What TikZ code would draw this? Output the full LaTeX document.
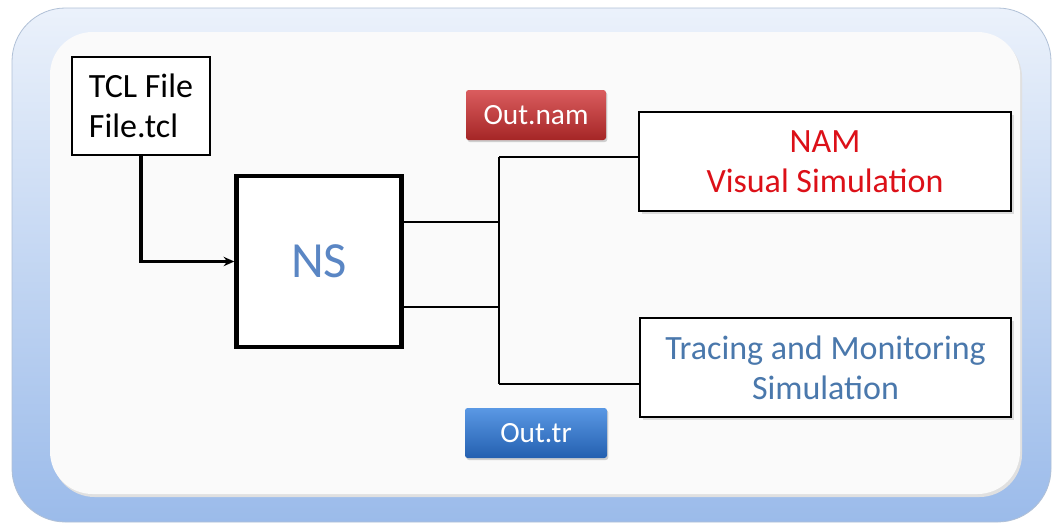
\documentclass[tikz,border=0pt]{standalone}
\usepackage{fontspec}
\setmainfont{Carlito}
\usepackage{tikz}
\usetikzlibrary{positioning,arrows.meta,calc,shadows}
\definecolor{frameblue}{HTML}{9BBBEA}
\definecolor{namred}{HTML}{DC1018}
\definecolor{trcblue}{HTML}{4A78AC}
\definecolor{nsblue}{HTML}{5A86C4}
\definecolor{redtop}{HTML}{DA5C5E}
\definecolor{redmid}{HTML}{C3302F}
\definecolor{redbot}{HTML}{A52626}
\definecolor{bluetop}{HTML}{5A98E4}
\definecolor{bluemid}{HTML}{2F72CC}
\definecolor{bluebot}{HTML}{2460B0}

\begin{document}
\begin{tikzpicture}[x=0.75pt,y=-0.75pt,>=Stealth, font=\fontsize{25.5}{30}\selectfont,
  box/.style={draw,line width=2pt,fill=white,align=center,inner sep=0pt},
  btn/.style={rounded corners=2pt,text=white,minimum width=105pt,minimum height=37.5pt,
    font=\fontsize{22}{26}\selectfont,drop shadow={opacity=0.35,shadow xshift=1pt,shadow yshift=-1.5pt}},
  wire/.style={line width=1.5pt}]
  \useasboundingbox (0,0) rectangle (1055,526);
  % frame
  \shade[rounded corners=40pt,top color=frameblue!20,bottom color=frameblue,draw=frameblue!80!black!60,line width=0.6pt]
    (12,8) rectangle (1051,522);
  \fill[black!12,rounded corners=32pt] (52,35) rectangle (1022,497);
  \fill[white!98!black,rounded corners=32pt] (50,32) rectangle (1020,494);
  % nodes
  \node[box,minimum width=103.5pt,minimum height=73.5pt,align=left](tcl) at (141,106){TCL File\\File.tcl};
  \node[box,line width=3.3pt,minimum width=123.75pt,minimum height=128.25pt,text=nsblue,
    font=\fontsize{38}{44}\selectfont](ns) at (319,261.5){NS};
  \node[box,minimum width=279pt,minimum height=74.25pt,text=namred,drop shadow={opacity=0.25}](nam) at (825,161.5){NAM\\Visual Simulation};
  \node[box,minimum width=278.25pt,minimum height=74.25pt,text=trcblue,drop shadow={opacity=0.25}](trc) at (825.5,367.5){Tracing and Monitoring\\Simulation};
  \node[btn,top color=redtop,middle color=redmid,bottom color=redbot](onam) at (536,115){Out.nam};
  \node[btn,top color=bluetop,middle color=bluemid,bottom color=bluebot,minimum width=106.5pt](otr) at (536,433){Out.tr};
  % junctions
  \coordinate(ja) at (499,222);
  \coordinate(jc) at (499,307);
  \coordinate(jt) at (499,157);
  \coordinate(jb) at (499,384);
  \draw[-{Stealth[length=8pt,width=7pt]},line width=2.6pt](tcl.south)|-(ns.west);
  \draw[wire](ja-|ns.east)--(ja);\draw[wire](jc-|ns.east)--(jc);
  \draw[wire](jt)--(jb);
  \draw[wire](jt)--(jt-|nam.west);\draw[wire](jb)--(jb-|trc.west);
\end{tikzpicture}
\end{document}
